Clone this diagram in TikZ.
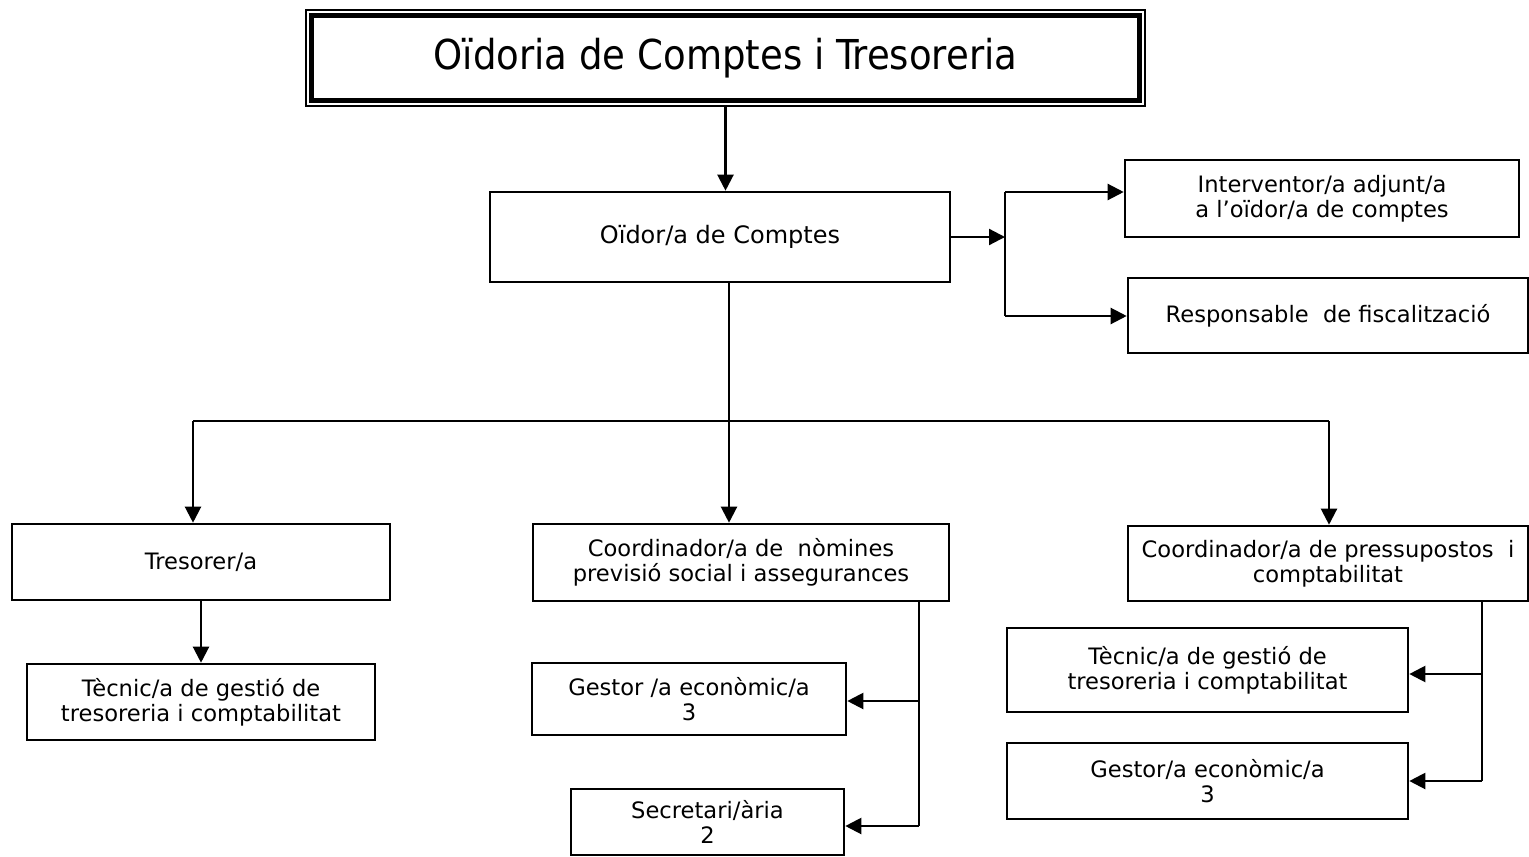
\documentclass[tikz,border=0pt]{standalone}
\usepackage{fontspec}
\setmainfont{DejaVu Sans}
\newfontfamily\titlefont{DejaVu Sans Condensed}
\usepackage{tikz}
\usetikzlibrary{arrows.meta}

\begin{document}
\begin{tikzpicture}[x=0.5pt, y=-0.5pt,
    box/.style={draw, line width=1.3pt, rectangle, align=center,
        font=\fontsize{11.3}{12.5}\selectfont, inner sep=0pt},
    arr/.style={line width=1.1pt, -{Triangle[length=8pt, width=8pt]}},
    ln/.style={line width=1.1pt}]
    \useasboundingbox (0,0) rectangle (1529,856);

    \node[draw, line width=0.6pt, minimum width=419.5pt, minimum height=48pt] (titleo) at (725.5,58) {};
    \node[draw, line width=2.8pt, minimum width=414pt, minimum height=42.5pt,
        font=\titlefont\fontsize{20.6}{24}\selectfont] (title) at (725.5,58) {Oïdoria de Comptes i Tresoreria};

    \node[box, minimum width=230pt, minimum height=45pt, font=\fontsize{12}{14}\selectfont] (oidor) at (720,237) {Oïdor/a de Comptes};
    \node[box, minimum width=197pt, minimum height=38.5pt] (interv) at (1322,198.5) {Interventor/a adjunt/a\\ a l’oïdor/a de comptes};
    \node[box, minimum width=200pt, minimum height=37.5pt] (resp) at (1328,315.5) {Responsable\ \ de fiscalització};

    \node[box, minimum width=189pt, minimum height=38pt] (tres) at (201,562) {Tresorer/a};
    \node[box, minimum width=174pt, minimum height=38pt] (tecA) at (201,702) {Tècnic/a de gestió de\\tresoreria i comptabilitat};

    \node[box, minimum width=208pt, minimum height=38.5pt] (coordN) at (741,562.5) {Coordinador/a de\ \ nòmines\\previsió social i assegurances};
    \node[box, minimum width=157pt, minimum height=36pt] (gestA) at (689,699) {Gestor /a econòmic/a\\3};
    \node[box, minimum width=136.5pt, minimum height=33pt] (secr) at (707.5,822) {Secretari/ària\\2};

    \node[box, minimum width=200pt, minimum height=37.5pt] (coordP) at (1328,563.5) {Coordinador/a de pressupostos\ \ i\\comptabilitat};
    \node[box, minimum width=200.5pt, minimum height=42pt] (tecB) at (1207.5,670) {Tècnic/a de gestió de\\tresoreria i comptabilitat};
    \node[box, minimum width=200.5pt, minimum height=38pt] (gestB) at (1207.5,781) {Gestor/a econòmic/a\\3};

    \coordinate (jR) at (1005,237);
    \coordinate (jRt) at (1005,192);
    \coordinate (jRb) at (1005,316);
    \coordinate (hub) at (729,421);
    \coordinate (hubL) at (193,421);
    \coordinate (hubR) at (1329,421);
    \coordinate (nA) at (919,701);
    \coordinate (nB) at (919,826);
    \coordinate (pA) at (1482,674);
    \coordinate (pB) at (1482,781);

    \draw[arr] (titleo.south) -- (titleo.south |- oidor.north);
    \draw[arr] (oidor.east) -- (jR);
    \draw[ln] (jRt) -- (jRb);
    \draw[arr] (jRt) -- (jRt -| interv.west);
    \draw[arr] (jRb) -- (jRb -| resp.west);

    \draw[ln] (hub |- oidor.south) -- (hub);
    \draw[ln] (hubL) -- (hubR);
    \draw[arr] (hubL) -- (hubL |- tres.north);
    \draw[arr] (hub) -- (hub |- coordN.north);
    \draw[arr] (hubR) -- (hubR |- coordP.north);

    \draw[arr] (tres.south) -- (tecA.north);

    \draw[ln] (nB |- coordN.south) -- (nB);
    \draw[arr] (nA) -- (nA -| gestA.east);
    \draw[arr] (nB) -- (nB -| secr.east);

    \draw[ln] (pB |- coordP.south) -- (pB);
    \draw[arr] (pA) -- (pA -| tecB.east);
    \draw[arr] (pB) -- (pB -| gestB.east);
\end{tikzpicture}
\end{document}
